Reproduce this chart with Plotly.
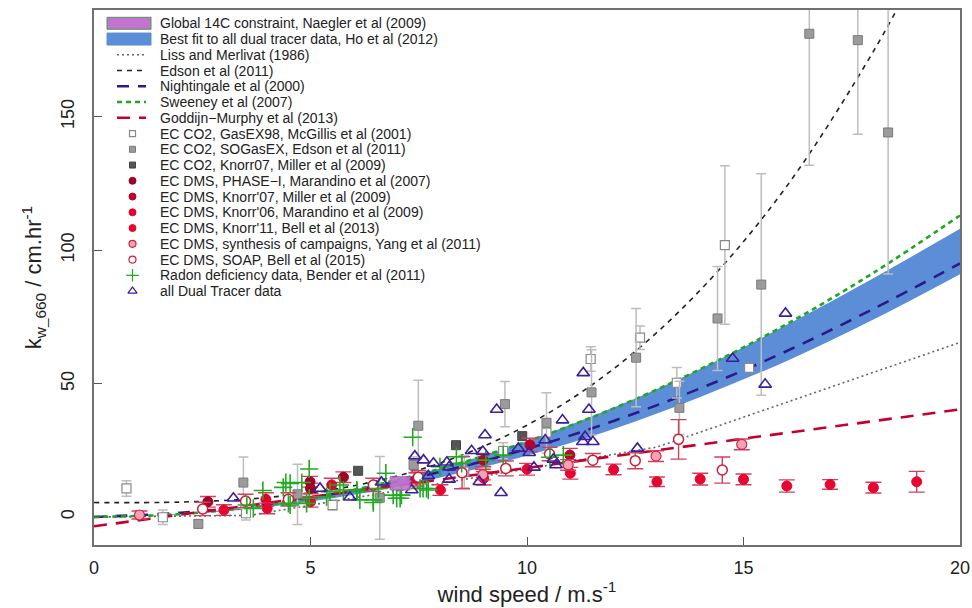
import plotly.graph_objects as go

# ---------------- data ----------------
# parameterisation curves
u_curve = [0, 2, 4, 6, 8, 10, 12, 14, 16, 18, 20]
k_nightingale = [0, 1.6, 4.9, 10.0, 16.9, 25.5, 36.0, 48.2, 62.2, 78.0, 95.0]
k_sweeney = [0, 1.1, 4.5, 10.2, 18.1, 28.3, 40.7, 55.4, 72.3, 91.5, 113.0]
k_ho_top = [0, 1.2, 4.6, 10.3, 18.3, 28.5, 41.0, 55.5, 72.0, 89.5, 108.0]
k_ho_bottom = [0, 0.9, 3.7, 8.3, 14.8, 23.0, 33.0, 45.0, 58.5, 74.0, 91.0]

u_edson = [0, 2, 4, 6, 8, 10, 12, 14, 16, 18, 19]
k_edson = [5.4, 5.6, 7.3, 11.7, 20.2, 34.4, 55.5, 85.0, 124.0, 174.5, 204.3]

u_liss = [0, 3.6, 13, 20]
k_liss = [0, 0.6, 26.2, 65.4]

u_goddijn = [0, 20]
k_goddijn = [-3.5, 40.3]

# Global 14C constraint box (wind range, k range)
naegler_u = [6.84, 7.30]
naegler_k = [10.1, 15.1]

# EC CO2, GasEX98
gasex_u = [0.75, 1.59, 3.51, 5.51, 8.55, 9.45, 10.45, 11.47, 12.61, 13.46, 14.57, 15.13]
gasex_k = [10.7, -0.1, 1.4, 4.5, 17.0, 24.8, 31.6, 59.2, 67.2, 50.3, 101.9, 55.9]
gasex_e = [2.9, 2.7, 2.5, 2.0, 6.0, 3.0, 4.0, 4.6, 4.4, 5.7, 29.7, 1.5]

# EC CO2, SOGasEX
sogasex_u = [2.41, 3.45, 4.70, 6.60, 7.38, 7.49, 9.49, 10.45, 11.49, 12.52, 13.52, 14.40, 15.41, 16.52, 17.64, 18.34]
sogasex_k = [-2.6, 12.9, 8.5, 7.2, 19.5, 34.2, 42.3, 35.3, 46.7, 59.7, 40.9, 74.4, 87.1, 181.1, 178.7, 144.1]
sogasex_e = [1.5, 9.6, 11.3, 15.5, 3.0, 17.0, 8.5, 11.3, 16.0, 18.4, 10.0, 19.5, 41.5, 49.3, 35.3, 53.0]

# EC CO2, Knorr07
knorr07co2_u = [6.10, 8.36, 9.89]
knorr07co2_k = [17.3, 26.9, 30.3]

# EC DMS, PHASE-I
phase_u = [2.63, 4.99, 5.00, 5.76]
phase_k = [5.7, 13.2, 10.7, 14.9]
phase_e = [2.0, 2.0, 2.0, 2.0]

# EC DMS, Knorr'07
knorr07dms_u = [8.99, 10.07, 10.99]
knorr07dms_k = [21.3, 27.0, 23.2]
knorr07dms_e = [2.5, 2.5, 2.5]

# EC DMS, Knorr'06
knorr06_u = [3.97, 5.49, 7.45]
knorr06_k = [6.6, 12.0, 14.1]
knorr06_e = [2.5, 2.5, 2.5]

# EC DMS, Knorr'11
knorr11_u = [3.0, 4.0, 5.0, 8.0, 9.0, 10.0, 11.0, 12.0, 13.0, 14.0, 15.0, 16.0, 17.0, 18.0, 19.0]
knorr11_k = [2.6, 3.2, 5.7, 10.1, 14.5, 17.9, 16.4, 17.8, 13.2, 14.2, 14.1, 11.6, 12.2, 11.0, 13.2]
knorr11_e = [2.0, 2.0, 2.0, 2.0, 2.5, 2.2, 2.2, 2.0, 1.8, 2.2, 2.0, 2.3, 1.8, 2.0, 3.9]

# EC DMS, synthesis (Yang)
yang_u = [1.05, 8.98, 10.95, 12.98, 14.96]
yang_k = [0.75, 15.9, 19.5, 22.8, 27.2]
yang_e = [1.5, 2.0, 2.0, 2.0, 2.0]

# EC DMS, SOAP
soap_u = [2.51, 3.50, 4.49, 6.45, 7.49, 8.50, 9.51, 10.52, 11.52, 12.50, 13.50, 14.51]
soap_k = [3.0, 6.0, 6.6, 12.0, 14.9, 16.6, 18.2, 23.6, 21.3, 21.1, 29.1, 17.6]
soap_e = [2.5, 2.5, 2.5, 2.5, 2.5, 6.0, 2.8, 2.5, 2.5, 3.0, 7.4, 4.9]

# Radon deficiency
radon_u = [3.53, 3.68, 3.90, 4.37, 4.43, 4.49, 4.53, 4.53, 4.80, 4.91, 4.97, 4.97, 5.37, 5.45,
           5.68, 5.76, 6.07, 6.07, 6.14, 6.45, 6.45, 6.57, 6.74, 6.91, 6.99, 7.07, 7.10, 7.36,
           7.53, 7.60, 7.68, 7.72, 7.99, 8.37, 8.49, 9.05, 9.45, 10.53, 10.84]
radon_k = [4.5, 3.2, 9.9, 11.1, 12.9, 5.1, 12.6, 4.5, 12.9, 5.1, 18.0, 7.0, 7.6, 9.5,
           12.0, 10.1, 10.1, 9.5, 6.4, 5.4, 6.4, 10.7, 16.4, 8.2, 7.0, 7.0, 8.2, 29.9,
           10.7, 10.7, 10.7, 10.1, 18.8, 22.6, 20.1, 21.3, 23.2, 22.4, 23.2]

# all Dual Tracer data
dual_u = [3.22, 5.22, 5.91, 6.64, 7.34, 7.41, 7.61, 7.72, 7.84, 8.15, 8.20, 8.20, 8.72, 8.90,
          8.98, 9.03, 9.30, 9.40, 9.80, 10.05, 10.16, 10.42, 10.61, 10.67, 10.82, 11.29, 11.30,
          11.34, 11.43, 11.52, 12.55, 14.75, 15.50, 15.97]
dual_k = [7.0, 10.7, 7.4, 13.0, 10.1, 22.8, 21.3, 15.4, 20.1, 20.5, 18.7, 14.1, 24.8, 13.2,
          24.5, 30.7, 40.3, 9.1, 25.7, 24.1, 18.6, 28.8, 21.6, 19.5, 36.3, 28.2, 54.0,
          30.1, 40.3, 28.2, 25.7, 59.4, 49.7, 76.3]

x_ticks = [0, 5, 10, 15, 20]
y_ticks = [0, 50, 100, 150]

legend_labels = [
    "Global 14C constraint, Naegler et al (2009)",
    "Best fit to all dual tracer data, Ho et al (2012)",
    "Liss and Merlivat (1986)",
    "Edson et al (2011)",
    "Nightingale et al (2000)",
    "Sweeney et al (2007)",
    "Goddijn\u2212Murphy et al (2013)",
    "EC CO2, GasEX98, McGillis et al (2001)",
    "EC CO2, SOGasEX, Edson et al (2011)",
    "EC CO2, Knorr07, Miller et al (2009)",
    "EC DMS, PHASE\u2212I, Marandino et al (2007)",
    "EC DMS, Knorr'07, Miller et al (2009)",
    "EC DMS, Knorr'06, Marandino et al (2009)",
    "EC DMS, Knorr'11, Bell et al (2013)",
    "EC DMS, synthesis of campaigns, Yang et al (2011)",
    "EC DMS, SOAP, Bell et al (2015)",
    "Radon deficiency data, Bender et al (2011)",
    "all Dual Tracer data",
]

# ---------------- styles ----------------
C_BAND = "#5b8ed6"
C_BOX = "#c274cf"
C_BOXLINE = "#4f9a4f"
line_styles = [
    dict(color="#666666", width=1.6, dash="2px,3px"),          # Liss
    dict(color="#222222", width=1.6, dash="5px,5px"),          # Edson
    dict(color="#2c1a8c", width=2.6, dash="12px,9px"),         # Nightingale
    dict(color="#1fa81f", width=2.6, dash="5px,4px"),          # Sweeney
    dict(color="#c4002f", width=2.6, dash="13px,9px"),         # Goddijn
]
marker_styles = [
    dict(symbol="square", size=9, color="white", line=dict(color="#8a8a8a", width=1.2)),
    dict(symbol="square", size=9, color="#9b9b9b", line=dict(color="#7a7a7a", width=1)),
    dict(symbol="square", size=9, color="#555555", line=dict(color="#444444", width=1)),
    dict(symbol="circle", size=10, color="#a00024", line=dict(color="#a00024", width=1)),
    dict(symbol="circle", size=10, color="#bd0029", line=dict(color="#bd0029", width=1)),
    dict(symbol="circle", size=10, color="#e2002d", line=dict(color="#e2002d", width=1)),
    dict(symbol="circle", size=10, color="#e6062f", line=dict(color="#e6062f", width=1)),
    dict(symbol="circle", size=10, color="#f4a3b5", line=dict(color="#d0204a", width=1.2)),
    dict(symbol="circle", size=10, color="white", line=dict(color="#c81e3c", width=1.5)),
    dict(symbol="cross-thin", size=13, color="#22aa22", line=dict(color="#22aa22", width=1.6)),
    dict(symbol="triangle-up-open", size=11, color="#3d1f99", line=dict(color="#3d1f99", width=1.6)),
]
legend_marker_size = [6, 6, 6, 7, 7, 7, 7, 7, 7, 9, 8]

grey_err = dict(color="#bdbdbd", thickness=1.5, width=5)
red_err = dict(color="#d2405c", thickness=1.4, width=8)

fig = go.Figure()

# Ho et al band
fig.add_trace(go.Scatter(x=u_curve, y=k_ho_bottom, mode="lines",
                         line=dict(width=0, shape="spline", color=C_BAND), hoverinfo="skip"))
fig.add_trace(go.Scatter(x=u_curve, y=k_ho_top, mode="lines", fill="tonexty", fillcolor=C_BAND,
                         line=dict(width=0, shape="spline", color=C_BAND), name=legend_labels[1]))

# parameterisation lines
curves = [(u_liss, k_liss, "linear"), (u_edson, k_edson, "spline"), (u_curve, k_nightingale, "spline"),
          (u_curve, k_sweeney, "spline"), (u_goddijn, k_goddijn, "linear")]
for (cx, cy, shp), st, lab in zip(curves, line_styles, legend_labels[2:7]):
    fig.add_trace(go.Scatter(x=cx, y=cy, mode="lines", line=dict(shape=shp, **st), name=lab))

# point series
series = [
    (gasex_u, gasex_k, gasex_e, grey_err),
    (sogasex_u, sogasex_k, sogasex_e, grey_err),
    (knorr07co2_u, knorr07co2_k, None, None),
    (phase_u, phase_k, phase_e, red_err),
    (knorr07dms_u, knorr07dms_k, knorr07dms_e, red_err),
    (knorr06_u, knorr06_k, knorr06_e, red_err),
    (knorr11_u, knorr11_k, knorr11_e, red_err),
    (yang_u, yang_k, yang_e, red_err),
    (soap_u, soap_k, soap_e, red_err),
    (radon_u, radon_k, None, None),
    (dual_u, dual_k, None, None),
]
for (sx, sy, se, es), ms, lab in zip(series, marker_styles, legend_labels[7:]):
    kw = {}
    if se is not None:
        kw["error_y"] = dict(type="data", array=se, symmetric=True, visible=True, **es)
    fig.add_trace(go.Scatter(x=sx, y=sy, mode="markers", marker=ms, name=lab, **kw))

# Naegler box (drawn on top of the points)
box_x = [naegler_u[0], naegler_u[1], naegler_u[1], naegler_u[0], naegler_u[0]]
box_y = [naegler_k[0], naegler_k[0], naegler_k[1], naegler_k[1], naegler_k[0]]
fig.add_trace(go.Scatter(x=box_x, y=box_y, mode="lines", fill="toself", fillcolor=C_BOX, opacity=0.9,
                         line=dict(color="#9a58b0", width=1), name=legend_labels[0]))

# ---------------- hand-built legend (pixel-space overlay axes) ----------------
LEG_Y0, LEG_DY = 23.3, 15.75
LEG_TEXT_X = 158
rows = [LEG_Y0 + LEG_DY * i for i in range(len(legend_labels))]
lk = dict(xaxis="x2", yaxis="y2", showlegend=False, hoverinfo="skip")

for i, col, edge in [(0, C_BOX, C_BOXLINE), (1, C_BAND, C_BAND)]:
    yc = rows[i]
    fig.add_trace(go.Scatter(x=[107, 151, 151, 107, 107], y=[yc - 6, yc - 6, yc + 6, yc + 6, yc - 6],
                             mode="lines", fill="toself", fillcolor=col, line=dict(color=edge, width=1), **lk))
for j, st in enumerate(line_styles):
    yc = rows[2 + j]
    fig.add_trace(go.Scatter(x=[117, 146], y=[yc, yc], mode="lines", line=st, **lk))
for j, ms in enumerate(marker_styles):
    yc = rows[7 + j]
    m = dict(ms)
    m["size"] = legend_marker_size[j]
    m["line"] = dict(ms["line"])
    m["line"]["width"] = min(ms["line"]["width"], 1.2)
    fig.add_trace(go.Scatter(x=[132.5], y=[yc], mode="markers", marker=m, **lk))

annotations = [dict(x=LEG_TEXT_X, y=yc, xref="x2", yref="y2", text=lab, showarrow=False,
                    xanchor="left", yanchor="middle", font=dict(size=14, color="#222222"))
               for yc, lab in zip(rows, legend_labels)]

axis_common = dict(showline=True, linecolor="#707070", linewidth=1.5, mirror=True,
                   ticks="inside", ticklen=8, tickcolor="#555555", tickwidth=1.3,
                   showgrid=False, zeroline=False, automargin=False,
                   tickfont=dict(family="Liberation Sans, Arial, sans-serif", size=18, color="#222222"))

fig.update_layout(
    width=972, height=608,
    margin=dict(l=94, r=12, t=10, b=63),
    paper_bgcolor="white", plot_bgcolor="white",
    font=dict(family="Liberation Sans, Arial, sans-serif", color="#222222"),
    showlegend=False,
    xaxis=dict(range=[0, 20], tickvals=x_ticks, ticktext=[str(v) for v in x_ticks], ticklabelstandoff=6,
               title=dict(text="wind speed / m.s<sup>-1</sup>", font=dict(size=22), standoff=3),
               **axis_common),
    yaxis=dict(range=[-10.5, 190], tickvals=y_ticks, ticktext=[str(v) for v in y_ticks], tickangle=-90,
               ticklabelstandoff=11,
               title=dict(text="k<sub>w_660</sub> / cm.hr<sup>-1</sup>", font=dict(size=22), standoff=10),
               **axis_common),
    xaxis2=dict(overlaying="x", anchor="y2", range=[94, 960], visible=False, fixedrange=True),
    yaxis2=dict(overlaying="y", anchor="x2", range=[545, 10], visible=False, fixedrange=True),
    annotations=annotations,
)

fig.write_html("out.html", config={"displayModeBar": False},
               post_script="document.body.style.margin='0px';")
